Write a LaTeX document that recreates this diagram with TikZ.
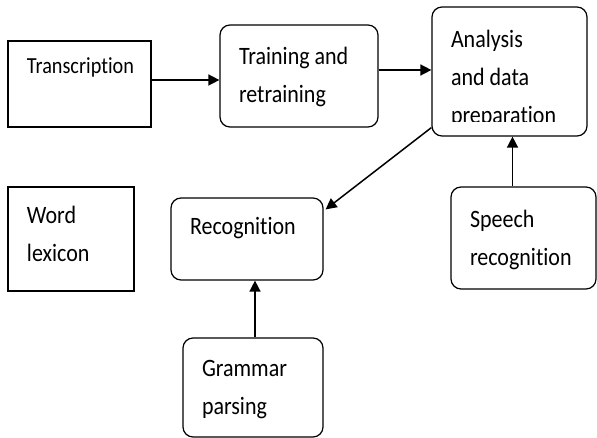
\documentclass[tikz,border=0pt]{standalone}
\usepackage{fontspec}
\setmainfont[FakeStretch=0.88, Ligatures=NoCommon]{Carlito}
\usetikzlibrary{arrows.meta}

% text of a box, top left, fixed size
\newcommand{\boxtext}[3]{\parbox[c][#2][t]{#1}{\raggedright\strut#3}}

\begin{document}
\begin{tikzpicture}[x=1pt,y=-1pt,
		box/.style={draw, line width=1.2pt, inner xsep=19pt, inner ysep=10pt, font=\fontsize{25}{38}\selectfont},
		rbox/.style={box, rounded corners=10pt},
		arr/.style={-{Triangle[length=11pt,width=11pt]}, line width=1.5pt}]
	\useasboundingbox (0,0) rectangle (597,438);

	\node[box, inner ysep=6pt, font=\fontsize{23}{38}\selectfont] (trans) at (79.5,84) {\boxtext{105pt}{74pt}{Transcription}};
	\node[rbox, inner ysep=12.5pt] (train) at (299,76) {\boxtext{120pt}{77pt}{Training and\\retraining}};
	\node[rbox, inner ysep=13.5pt] (analysis) at (509.5,71.5) {\boxtext{117pt}{102pt}{Analysis\\and data\\preparation}};

	\node[box] (lexicon) at (71,239) {\boxtext{88pt}{84pt}{Word\\lexicon}};
	\node[rbox] (recog) at (247,239) {\boxtext{114pt}{62pt}{Recognition}};
	\node[rbox, inner ysep=14pt] (speech) at (523.5,238) {\boxtext{107pt}{74pt}{Speech\\recognition}};

	\node[rbox, inner ysep=11.5pt] (grammar) at (253,387.5) {\boxtext{102pt}{76pt}{Grammar\\parsing}};

	% last line of the box is cut off
	\fill[white] ([xshift=12pt,yshift=2pt]analysis.south west) rectangle ([xshift=-12pt,yshift=15pt]analysis.south east);

	\draw[arr] ([yshift=4pt]trans.east) -- ([yshift=4pt]trans.east -| train.west);
	\draw[arr] ([yshift=6pt]train.east) -- ([yshift=6pt]train.east -| analysis.west);
	\draw[arr] ([yshift=9pt]analysis.south west) -- ([xshift=2pt,yshift=-12pt]recog.north east);
	\draw[arr] ([xshift=-11pt]speech.north) -- ([xshift=-11pt]speech.north |- analysis.south);
	\draw[arr] ([xshift=2pt]grammar.north) -- ([xshift=2pt]grammar.north |- recog.south);
\end{tikzpicture}
\end{document}
